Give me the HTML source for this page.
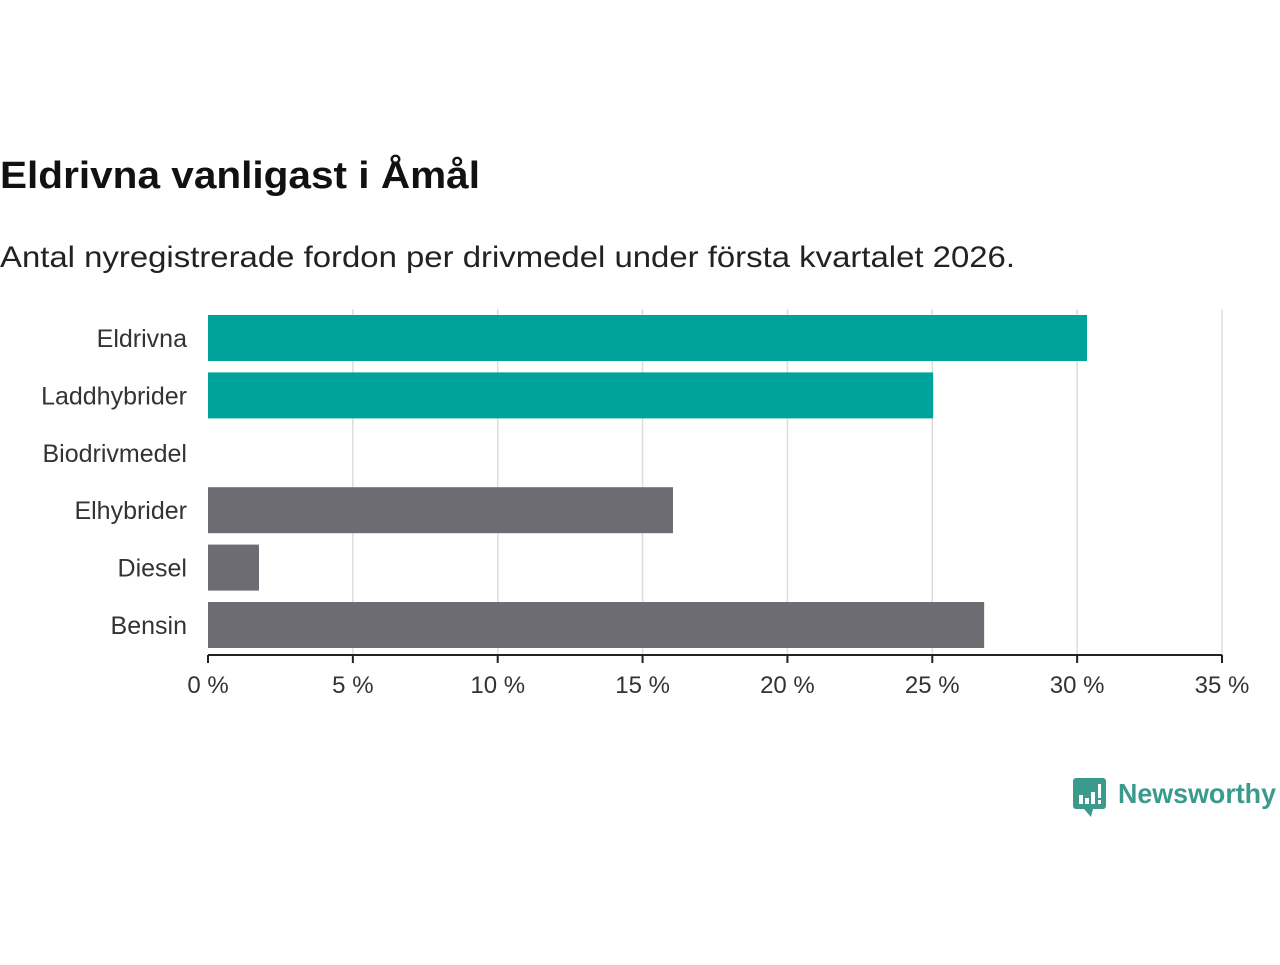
<!DOCTYPE html>
<html><head><meta charset="utf-8"><style>
body{margin:0;background:#fff;width:1280px;height:960px;overflow:hidden;font-family:"Liberation Sans","DejaVu Sans",sans-serif;}
</style></head><body>
<svg width="1280" height="960">
<text x="0" y="188" font-size="38" font-weight="bold" fill="#111" textLength="480" lengthAdjust="spacingAndGlyphs">Eldrivna vanligast i Åmål</text>
<text x="0" y="267" font-size="30" fill="#222" textLength="1015" lengthAdjust="spacingAndGlyphs">Antal nyregistrerade fordon per drivmedel under första kvartalet 2026.</text>
<g id="grid"></g><g id="bars"></g><g id="axis"></g>
<g>
<rect x="1073" y="778" width="33" height="31" rx="3" fill="#3a9a8c"/>
<path d="M1084 809 L1091 817 L1093 809 Z" fill="#3a9a8c"/>
<rect x="1079" y="795" width="4" height="9" fill="#fff"/><rect x="1085" y="798" width="4" height="6" fill="#fff"/><rect x="1091" y="792" width="4" height="12" fill="#fff"/><rect x="1098" y="784" width="3" height="14" fill="#fff"/><rect x="1098" y="800" width="3" height="4" fill="#fff"/>
<text x="1118" y="803" font-size="28" font-weight="bold" fill="#3a9a8c" textLength="158" lengthAdjust="spacingAndGlyphs">Newsworthy</text>
</g>
</svg>
<script>
const categories=["Eldrivna","Laddhybrider","Biodrivmedel","Elhybrider","Diesel","Bensin"];
const values=[30.34,25.03,0,16.05,1.76,26.79];
const colors=["#00a39a","#00a39a","#00a39a","#6d6c73","#6d6c73","#6d6c73"];
const ticks=[0,5,10,15,20,25,30,35];
const NS="http://www.w3.org/2000/svg";
const x=v=>208+v*(1014/35);
const y=i=>309+i*57.4;
function mk(t,a,p){const e=document.createElementNS(NS,t);for(const k in a)e.setAttribute(k,a[k]);p.appendChild(e);return e;}
const grid=document.getElementById('grid'),bars=document.getElementById('bars'),axis=document.getElementById('axis');
ticks.forEach(t=>{
 if(t>0){const g=mk('line',{x1:x(t),x2:x(t),y1:309,y2:655,stroke:'#ddd','stroke-width':1.5},grid);
 
 }
 const tk=mk('line',{x1:x(t),x2:x(t),y1:655,y2:663,stroke:'#222','stroke-width':2},axis);
 
 
 const l=mk('text',{x:x(t),y:693,'font-size':24,fill:'#333','text-anchor':'middle'},axis);
 l.textContent=t+' %';
 
 
});
const ax=mk('line',{x1:208,x2:1222,y1:655,y2:655,stroke:'#222','stroke-width':2},axis);


categories.forEach((c,i)=>{
 const r=mk('rect',{x:x(0),y:y(i)+6,width:x(values[i])-x(0),height:46,fill:colors[i]},bars);
 
 
 const t=mk('text',{x:187,y:y(i)+38,'font-size':25,fill:'#333','text-anchor':'end'},axis);
 t.textContent=c;
 
 
});
</script>
</body></html>
